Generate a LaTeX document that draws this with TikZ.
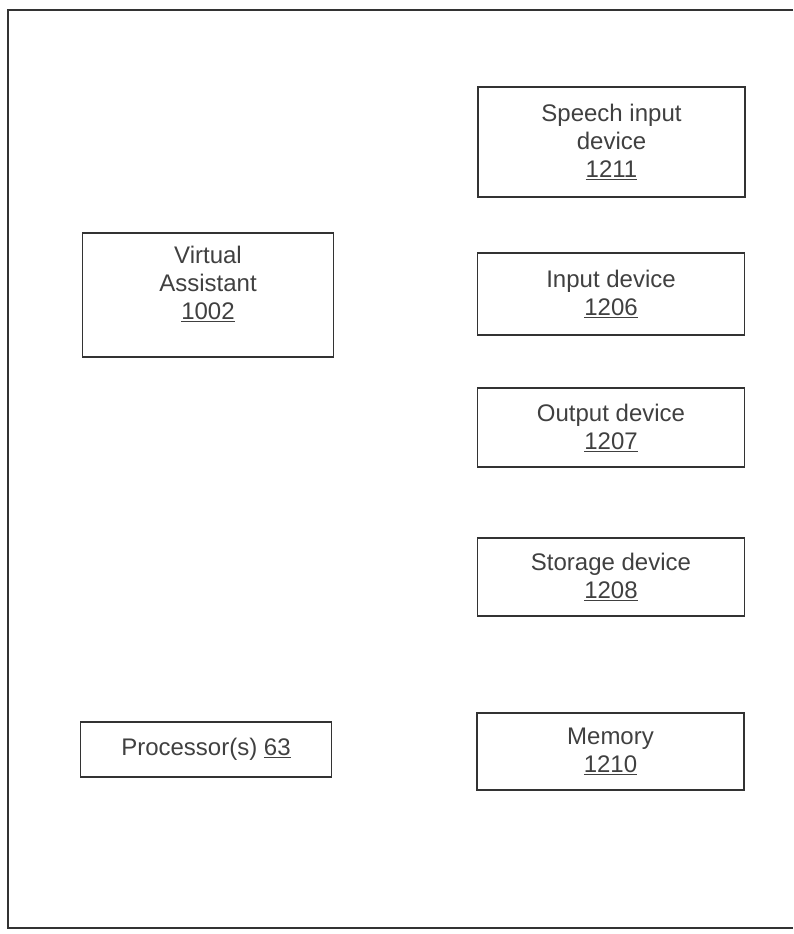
\documentclass[tikz,border=0pt]{standalone}
\usepackage{fontspec}
\setmainfont{Liberation Sans}
\usepackage{tikz}
\usetikzlibrary{positioning}

\begin{document}
\begin{tikzpicture}[x=1pt, y=-1pt, % one unit = one pixel of the sheet, y going down
    unitbox/.style={draw=black!80, line width=1.6pt, inner sep=0pt, align=center,
        text=black!75, font=\fontsize{24}{28}\selectfont},
    unitwide/.style={unitbox, minimum width=267, minimum height=80},
    unitleft/.style={unitbox, minimum width=251}]
            % 0. Page size
            \useasboundingbox (0,0) rectangle (793,934);

            % 1. Outer frame (open on the right)
            \draw[draw=black!80, line width=1.6pt] (793,10) -- (8,10) -- (8,928) -- (793,928);

            % 2. Left column
            \node[unitleft, minimum height=124, text depth=24pt] (assistant) at (208,295)
                {Virtual\\Assistant\\\underline{1002}};
            \node[unitleft, minimum height=55] (processor) at (206,749.5)
                {Processor(s) \underline{63}};

            % 3. Right column
            \node[unitwide, minimum height=110] (speech) at (611.5,142)
                {Speech input\\device\\\underline{1211}};
            \node[unitwide, minimum height=82] (input) at (611,294)
                {Input device\\\underline{1206}};
            \node[unitwide, minimum height=79] (output) at (611,427.5)
                {Output device\\\underline{1207}};
            \node[unitwide, minimum height=78] (storage) at (611,577)
                {Storage device\\\underline{1208}};
            \node[unitwide, minimum height=77] (memory) at (610.5,751.5)
                {Memory\\\underline{1210}};
        \end{tikzpicture}
\end{document}
